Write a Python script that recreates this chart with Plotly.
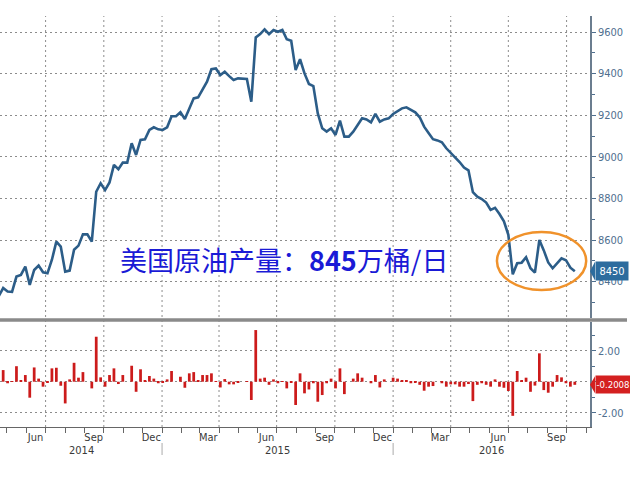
import pandas as pd
import plotly.graph_objects as go

# ---------------- data ----------------
start_week = "2014-04-18"
production = [
    8330, 8369, 8352, 8351, 8424, 8432, 8472, 8384, 8456, 8477,
    8445, 8440, 8505, 8592, 8568, 8448, 8453, 8553, 8573, 8627,
    8627, 8592, 8832, 8873, 8840, 8877, 8961, 8940, 8972, 8972,
    9065, 9009, 9081, 9084, 9129, 9142, 9132, 9129, 9142, 9195,
    9195, 9214, 9182, 9228, 9281, 9286, 9322, 9361, 9421, 9425,
    9393, 9409, 9388, 9369, 9377, 9374, 9374, 9265, 9574, 9590,
    9613, 9590, 9610, 9601, 9610, 9565, 9558, 9417, 9469, 9401,
    9350, 9340, 9209, 9137, 9121, 9137, 9105, 9174, 9097, 9097,
    9121, 9153, 9185, 9180, 9166, 9206, 9169, 9180, 9185, 9206,
    9220, 9233, 9238, 9225, 9214, 9190, 9145, 9115, 9085, 9079,
    9070, 9041, 9020, 9000, 8975, 8948, 8935, 8830, 8808, 8797,
    8780, 8745, 8755, 8725, 8690, 8625, 8435, 8488, 8491, 8517,
    8464, 8443, 8600, 8550, 8492, 8464, 8490, 8512, 8503, 8467,
    8450,
]
# weekly % change (bars), weeks 1..130
pct_change = [
    0.75, -0.10, 0.02, 1.00, 0.05, 0.43, -1.03, 0.92, 0.20, -0.32,
    -0.03, 0.86, 0.90, -0.26, -1.40, 0.15, 1.22, 0.26, 0.62, 0.00,
    -0.43, 2.90, 0.28, -0.32, 0.43, 0.86, -0.15, 0.43, 0.00, 1.03,
    -0.65, 0.80, 0.10, 0.37, 0.20, -0.10, -0.05, 0.15, 0.69, 0.00,
    0.32, -0.39, 0.54, 0.62, 0.05, 0.43, 0.43, 0.54, 0.03, -0.37,
    0.17, -0.17, -0.17, -0.05, 0.00, 0.02, -1.18, 3.33, 0.20, 0.26,
    -0.20, 0.15, -0.10, 0.02, -0.43, -0.02, -1.50, 0.54, -0.75, -0.50,
    -0.10, -1.29, -0.86, -0.10, 0.20, -0.43, 0.86, -0.80, 0.00, 0.20,
    0.54, 0.26, 0.00, -0.10, 0.43, -0.37, 0.15, 0.00, 0.26, 0.20,
    0.06, 0.05, -0.10, -0.03, -0.20, -0.58, -0.32, -0.28, 0.00, -0.10,
    -0.32, -0.17, -0.17, -0.32, -0.32, -0.15, -1.25, -0.20, -0.10, -0.20,
    -0.32, 0.15, -0.32, -0.39, -0.60, -2.20, 0.69, 0.10, 0.26, -0.65,
    -0.25, 1.83, -0.54, -0.71, -0.32, 0.43, 0.28, -0.10, -0.32, -0.2008,
]
top_ticks = [8400, 8600, 8800, 9000, 9200, 9400, 9600]
bottom_ticks = [-2, 0, 2]
bottom_ticktext = ["-2.00", "", "2.00"]
grid_dates = ["2014-07-01", "2014-10-01", "2015-01-01", "2015-04-01", "2015-07-01",
              "2015-10-01", "2016-01-01", "2016-04-01", "2016-07-01", "2016-10-01"]
month_label_dates = ["2014-06-15", "2014-09-15", "2014-12-15", "2015-03-15", "2015-06-15",
                     "2015-09-15", "2015-12-15", "2016-03-15", "2016-06-15", "2016-09-15"]
month_labels = ["Jun", "Sep", "Dec", "Mar", "Jun", "Sep", "Dec", "Mar", "Jun", "Sep"]
year_label_dates = ["2014-08-26", "2015-07-02", "2016-06-04"]
year_labels = ["2014", "2015", "2016"]
year_breaks = ["2015-01-01", "2016-01-01"]
last_value_label = "8450"
last_change_label = "-0.2008"
title_text = "美国原油产量：<b>845</b>万桶/日"

dates = pd.date_range(start_week, periods=len(production), freq="7D")

# ---------------- figure ----------------
NARROW = "Liberation Sans Narrow, DejaVu Sans Condensed, Arial Narrow, sans-serif"
AX_COLOR = "#4f6f8f"
GRID = "#8c8c8c"
W, H = 630, 488
ML, MR, MT, MB = 0, 40, 16, 61
plot_h = H - MT - MB
def py(pix):  # pixel y -> paper fraction
    return (H - MB - pix) / plot_h

fig = go.Figure()
fig.add_trace(go.Scatter(x=dates, y=production, mode="lines",
                         line=dict(color="#2c5d88", width=2.6),
                         xaxis="x", yaxis="y", hoverinfo="skip"))
fig.add_trace(go.Bar(x=dates[1:], y=pct_change, marker=dict(color="#cc1b1b", line=dict(width=0)),
                     xaxis="x2", yaxis="y2", hoverinfo="skip"))

x_range = ["2014-04-20", "2016-11-07"]
fig.update_layout(
    width=W, height=H, margin=dict(l=ML, r=MR, t=MT, b=MB),
    paper_bgcolor="white", plot_bgcolor="white", showlegend=False,
    bargap=0.38, hovermode=False,
    xaxis=dict(domain=[0, 1], anchor="y", range=x_range, showticklabels=False,
               showgrid=False, zeroline=False, ticks="", matches="x2"),
    xaxis2=dict(domain=[0, 1], anchor="y2", range=x_range, showgrid=False, zeroline=False,
                tickmode="array", tickvals=month_label_dates, ticktext=month_labels, ticks="",
                tickfont=dict(family=NARROW, size=11, color="#3a3a3a"),
                showline=True, linecolor="#666", linewidth=1,
                minor=dict(ticks="outside", ticklen=5, tickcolor="#666", dtick="M1",
                           tick0="2014-01-01", showgrid=False)),
    yaxis=dict(domain=[py(318), 1], anchor="x", side="right", range=[8225, 9677],
               tickmode="array", tickvals=top_ticks, ticks="outside", ticklen=4,
               tickcolor=AX_COLOR, showgrid=True, gridcolor=GRID, griddash="2px,3px",
               gridwidth=1, zeroline=False, showline=True, linecolor="#6b7d8f", linewidth=1.5,
               tickfont=dict(family=NARROW, size=11, color=AX_COLOR),
               minor=dict(ticks="outside", ticklen=3, tickcolor=AX_COLOR, dtick=100,
                          tick0=0, showgrid=False)),
    yaxis2=dict(domain=[0, py(322)], anchor="x2", side="right", range=[-2.92, 3.85],
                tickmode="array", tickvals=bottom_ticks, ticktext=bottom_ticktext,
                ticks="outside", ticklen=4, tickcolor=AX_COLOR,
                showgrid=True, gridcolor=GRID, griddash="2px,3px", gridwidth=1,
                zeroline=False, showline=True, linecolor="#6b7d8f", linewidth=1.5,
                tickfont=dict(family=NARROW, size=11, color=AX_COLOR),
                minor=dict(ticks="outside", ticklen=3, tickcolor=AX_COLOR, dtick=1,
                           tick0=0, showgrid=False)),
)

shapes = []
for d in grid_dates:
    shapes.append(dict(type="line", xref="x", yref="paper", x0=d, x1=d, y0=0, y1=1,
                       line=dict(color=GRID, width=1, dash="2px,3px"), layer="below"))
# panel separator
shapes.append(dict(type="line", xref="paper", yref="paper", x0=0, x1=627 / (W - MR),
                   y0=py(320), y1=py(320), line=dict(color="#8a8a8a", width=3.5)))
# year separators
for d in year_breaks:
    shapes.append(dict(type="line", xref="x2", yref="paper", x0=d, x1=d,
                       y0=py(443), y1=py(455), line=dict(color="#aaaaaa", width=1)))
# orange ellipse
shapes.append(dict(type="circle", xref="x", yref="y", x0="2016-06-13", x1="2016-11-01",
                   y0=8360, y1=8638, line=dict(color="#f0922b", width=2.5)))
# pointers for last-value boxes
pw = 5 / (W - MR)
shapes.append(dict(type="path", xref="paper", yref="y",
                   path=f"M 1.0 {production[-1]} L {1 + pw} {production[-1] + 45} L {1 + pw} {production[-1] - 45} Z",
                   fillcolor="#2d6c9e", line=dict(width=0)))
shapes.append(dict(type="path", xref="paper", yref="y2",
                   path=f"M 1.0 {pct_change[-1]} L {1 + pw} {pct_change[-1] + 0.55} L {1 + pw} {pct_change[-1] - 0.55} Z",
                   fillcolor="#d42020", line=dict(width=0)))
fig.update_layout(shapes=shapes)

ann = []
ann.append(dict(text=title_text, xref="paper", yref="y", x=284 / (W - MR), y=8508,
                showarrow=False, xanchor="center", yanchor="middle",
                font=dict(family="Noto Sans CJK SC", size=27, color="#1a1ad6")))
for d, t in zip(year_label_dates, year_labels):
    ann.append(dict(text=t, xref="x2", yref="paper", x=d, y=py(451), showarrow=False,
                    xanchor="center", yanchor="middle",
                    font=dict(family=NARROW, size=11, color="#3a3a3a")))
ann.append(dict(text=last_value_label, xref="paper", yref="y", x=1 + pw, y=production[-1],
                xanchor="left", yanchor="middle", showarrow=False, bgcolor="#2d6c9e",
                width=32, height=18, borderpad=0,
                font=dict(family=NARROW, size=11, color="white")))
ann.append(dict(text=last_change_label, xref="paper", yref="y2", x=1 + pw, y=pct_change[-1],
                xanchor="left", yanchor="middle", showarrow=False, bgcolor="#d42020",
                width=34, height=17, borderpad=0,
                font=dict(family=NARROW, size=9.5, color="white")))
fig.update_layout(annotations=ann)

fig.write_html("out.html", config={"displayModeBar": False},
               post_script="document.body.style.margin='0px';")
